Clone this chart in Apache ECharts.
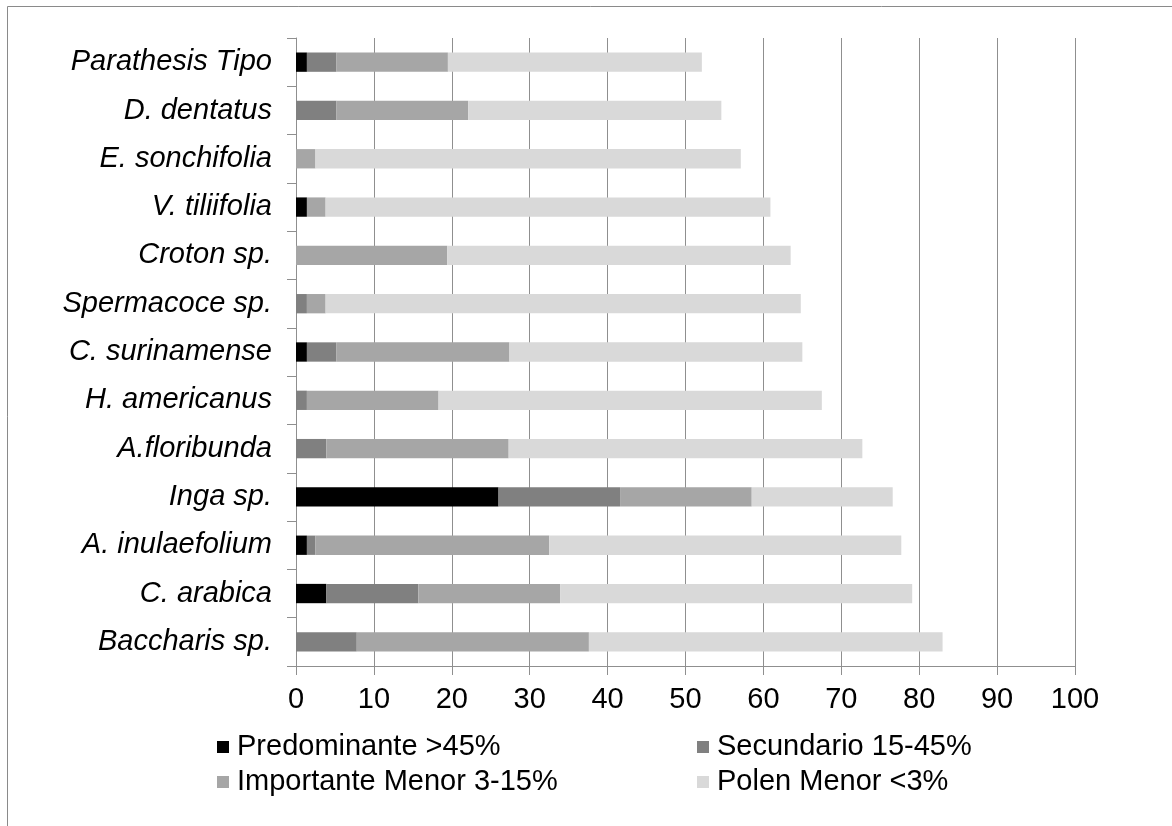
<!DOCTYPE html>
<html>
<head>
<meta charset="utf-8">
<title>Clases de polen por especie</title>
<script src="https://cdn.jsdelivr.net/npm/echarts@6/dist/echarts.min.js"></script>
<style>
  html, body { margin: 0; padding: 0; background: #ffffff; }
  #chart { width: 1172px; height: 826px; }
</style>
</head>
<body>
<div id="chart"></div>
<script>
// Species, listed top to bottom
const species = [
  'Parathesis Tipo', 'D. dentatus', 'E. sonchifolia', 'V. tiliifolia',
  'Croton sp.', 'Spermacoce sp.', 'C. surinamense', 'H. americanus',
  'A.floribunda', 'Inga sp.', 'A. inulaefolium', 'C. arabica', 'Baccharis sp.'
];

// Pollen class names
const seriesNames = [
  'Predominante >45%', 'Secundario 15-45%',
  'Importante Menor 3-15%', 'Polen Menor <3%'
];

// Percentage contributed by each class, same order as species
const predominante = [1.4, 0, 0, 1.4, 0, 0, 1.4, 0, 0, 26.0, 1.4, 3.9, 0];
const secundario = [3.8, 5.2, 0, 0, 0, 1.4, 3.8, 1.4, 3.9, 15.6, 1.1, 11.8, 7.8];
const importanteMenor = [14.3, 16.9, 2.5, 2.4, 19.4, 2.4, 22.2, 16.9, 23.4, 16.9, 30.0, 18.2, 29.8];
const polenMenor = [32.6, 32.5, 54.6, 57.1, 44.1, 61.0, 37.6, 49.2, 45.4, 18.1, 45.2, 45.2, 45.4];

// Axis ticks
const xMin = 0, xMax = 100, xStep = 10;

const colors = ['#000000', '#808080', '#a6a6a6', '#d9d9d9'];
const FONT = "'Liberation Sans', Arial, sans-serif";
const GRID_COLOR = '#8f8f8f';

const values = [predominante, secundario, importanteMenor, polenMenor];

const series = seriesNames.map((name, i) => ({
  name,
  type: 'bar',
  stack: 'total',
  barWidth: '40%',
  itemStyle: { color: colors[i] },
  emphasis: { disabled: true },
  data: values[i]
}));

const legendText = {
  color: '#000000',
  fontFamily: FONT,
  fontSize: 29,
  lineHeight: 30,
  padding: [0, 0, 0, 3]
};

const chart = echarts.init(document.getElementById('chart'), null, { renderer: 'canvas' });

chart.setOption({
  animation: false,
  backgroundColor: '#ffffff',
  color: colors,
  textStyle: { fontFamily: FONT },
  graphic: [{
    type: 'rect',
    silent: true,
    shape: { x: 7.5, y: 6.5, width: 1300, height: 1000 },
    style: { fill: 'none', stroke: '#8a8a8a', lineWidth: 1 }
  }],
  grid: { left: 296, right: 97, top: 38, bottom: 160, containLabel: false },
  legend: [
    {
      data: [seriesNames[0], seriesNames[2]],
      orient: 'vertical',
      left: 217, top: 732,
      padding: 0,
      itemGap: 5,
      itemWidth: 12, itemHeight: 12,
      icon: 'rect',
      selectedMode: false,
      textStyle: legendText
    },
    {
      data: [seriesNames[1], seriesNames[3]],
      orient: 'vertical',
      left: 697, top: 732,
      padding: 0,
      itemGap: 5,
      itemWidth: 12, itemHeight: 12,
      icon: 'rect',
      selectedMode: false,
      textStyle: legendText
    }
  ],
  xAxis: {
    type: 'value',
    min: xMin, max: xMax, interval: xStep,
    axisLine: { show: true, lineStyle: { color: GRID_COLOR, width: 1 } },
    axisTick: { show: true, length: 9, lineStyle: { color: GRID_COLOR, width: 1 } },
    axisLabel: { color: '#000000', fontSize: 29, fontFamily: FONT, margin: 19 },
    splitLine: { show: true, lineStyle: { color: GRID_COLOR, width: 1 } }
  },
  yAxis: {
    type: 'category',
    data: species,
    inverse: true,
    axisLine: { show: true, lineStyle: { color: GRID_COLOR, width: 1 } },
    axisTick: { show: true, length: 9, lineStyle: { color: GRID_COLOR, width: 1 } },
    axisLabel: {
      color: '#000000', fontSize: 29, fontStyle: 'italic',
      fontFamily: FONT, margin: 24
    },
    splitLine: { show: false }
  },
  series
});
</script>
</body>
</html>
